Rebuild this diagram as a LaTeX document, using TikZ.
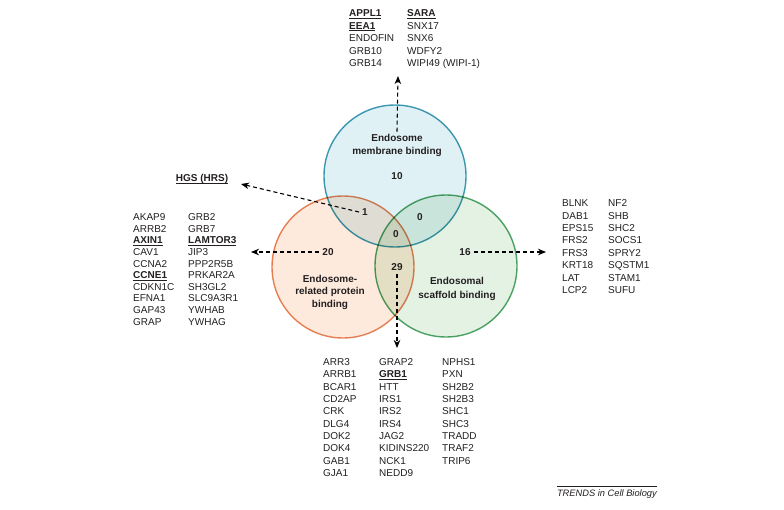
\documentclass[tikz,border=0pt]{standalone}
\usepackage{fontspec}
\setmainfont{Liberation Sans}
\usetikzlibrary{arrows.meta}
\newcommand\ulb[1]{\underline{\smash{\textbf{#1}}}}
\definecolor{txt}{RGB}{35,31,32}
\definecolor{bIn}{RGB}{224,241,245}
\definecolor{bOut}{RGB}{165,214,226}
\definecolor{bLine}{RGB}{64,156,180}
\definecolor{oIn}{RGB}{254,234,220}
\definecolor{oOut}{RGB}{246,192,160}
\definecolor{oLine}{RGB}{230,134,92}
\definecolor{gIn}{RGB}{228,242,228}
\definecolor{gOut}{RGB}{182,222,190}
\definecolor{gLine}{RGB}{80,166,104}
\pgfdeclareradialshading{blueball}{\pgfpoint{0bp}{0bp}}{color(0bp)=(bIn); color(26bp)=(bIn); color(50bp)=(bOut)}
\pgfdeclareradialshading{orangeball}{\pgfpoint{0bp}{0bp}}{color(0bp)=(oIn); color(26bp)=(oIn); color(50bp)=(oOut)}
\pgfdeclareradialshading{greenball}{\pgfpoint{0bp}{0bp}}{color(0bp)=(gIn); color(26bp)=(gIn); color(50bp)=(gOut)}
\begin{document}
\begin{tikzpicture}[x=1pt,y=-1pt,
  lst/.style={font=\fontsize{10}{12}\selectfont, inner sep=0pt, anchor=base west, text=txt},
  lab/.style={font=\fontsize{10}{13}\selectfont\bfseries, align=center, inner sep=2pt, text=txt},
  num/.style={font=\fontsize{10}{12}\selectfont\bfseries, inner sep=3pt, text=txt},
  venn/.style={circle, minimum size=142pt, inner sep=0pt, line width=1.4pt},
  darr/.style={dash pattern=on 4pt off 3pt, line width=1.1pt, draw=black,
    -{Stealth[length=8pt,width=6.5pt,inset=2.5pt]}}]
\useasboundingbox (0,0) rectangle (784,509);
\begin{scope}[blend group=multiply]
  \node[venn, shade, shading=blueball, draw=bLine] (blue) at (395,176) {};
  \node[venn, shade, shading=orangeball, draw=oLine] (orange) at (343,267) {};
  \node[venn, shade, shading=greenball, draw=gLine] (green) at (446,266) {};
\end{scope}
% circle labels and counts
\node[lab] (blab) at (397,145) {Endosome\\membrane binding};
\node[num] (n10) at (397,176) {10};
\node[num] (n1) at (365,212) {1};
\node[num] (n0a) at (420,217) {0};
\node[num] (n0b) at (396,234) {0};
\node[num] (n20) at (328,252) {20};
\node[num] (n16) at (465,252) {16};
\node[num] (n29) at (397,267) {29};
\node[lab, font=\fontsize{10}{12.5}\selectfont\bfseries] (olab) at (330,292) {Endosome-\\related protein\\binding};
\node[lab, font=\fontsize{10}{13.5}\selectfont\bfseries] (glab) at (457,289) {Endosomal\\scaffold binding};
% arrow tips
\coordinate (tTop) at (398,76);
\coordinate (tHgs) at (241,184);
\coordinate (t20) at (251,252);
\coordinate (t16) at (546,252);
\coordinate (t29) at (397,348);
\draw[darr] (blab.north) -- (tTop);
\draw[darr] (n1.west) -- (tHgs);
\draw[darr] (n20.west) -- (t20);
\draw[darr] (n16.east) -- (t16);
\draw[darr] (n29.south) -- (t29);
% HGS
\node[lst, anchor=base] (hgs) at (202,181.6) {\ulb{HGS (HRS)}};
% top list
\foreach \t [count=\i] in {\ulb{APPL1}, \ulb{EEA1}, ENDOFIN, GRB10, GRB14}
  \node[lst] (ta\i) at (349,{16.6+(\i-1)*12.5}) {\t};
\foreach \t [count=\i] in {\ulb{SARA}, SNX17, SNX6, WDFY2, WIPI49 (WIPI-1)}
  \node[lst] (tb\i) at (407,{16.6+(\i-1)*12.5}) {\t};
% left list
\foreach \t [count=\i] in {AKAP9, ARRB2, \ulb{AXIN1}, CAV1, CCNA2, \ulb{CCNE1}, CDKN1C, EFNA1, GAP43, GRAP}
  \node[lst] (la\i) at (133,{220.6+(\i-1)*11.6}) {\t};
\foreach \t [count=\i] in {GRB2, GRB7, \ulb{LAMTOR3}, JIP3, PPP2R5B, PRKAR2A, SH3GL2, SLC9A3R1, YWHAB, YWHAG}
  \node[lst] (lb\i) at (188,{220.6+(\i-1)*11.6}) {\t};
% right list
\foreach \t [count=\i] in {BLNK, DAB1, EPS15, FRS2, FRS3, KRT18, LAT, LCP2}
  \node[lst] (ra\i) at (562,{206.6+(\i-1)*12.4}) {\t};
\foreach \t [count=\i] in {NF2, SHB, SHC2, SOCS1, SPRY2, SQSTM1, STAM1, SUFU}
  \node[lst] (rb\i) at (608,{206.6+(\i-1)*12.4}) {\t};
% bottom list
\foreach \t [count=\i] in {ARR3, ARRB1, BCAR1, CD2AP, CRK, DLG4, DOK2, DOK4, GAB1, GJA1}
  \node[lst] (ba\i) at (323,{365.6+(\i-1)*12.3}) {\t};
\foreach \t [count=\i] in {GRAP2, \ulb{GRB1}, HTT, IRS1, IRS2, IRS4, JAG2, KIDINS220, NCK1, NEDD9}
  \node[lst] (bb\i) at (379,{365.6+(\i-1)*12.3}) {\t};
\foreach \t [count=\i] in {NPHS1, PXN, SH2B2, SH2B3, SHC1, SHC3, TRADD, TRAF2, TRIP6}
  \node[lst] (bc\i) at (442,{365.6+(\i-1)*12.3}) {\t};
% caption
\node[lst, font=\fontsize{9.3}{11}\selectfont\itshape, anchor=base east] (cap) at (657,496) {TRENDS in Cell Biology};
\draw[line width=0.5pt, txt] ([yshift=2.5pt]cap.north west) -- ([yshift=2.5pt]cap.north east);
\end{tikzpicture}
\end{document}
